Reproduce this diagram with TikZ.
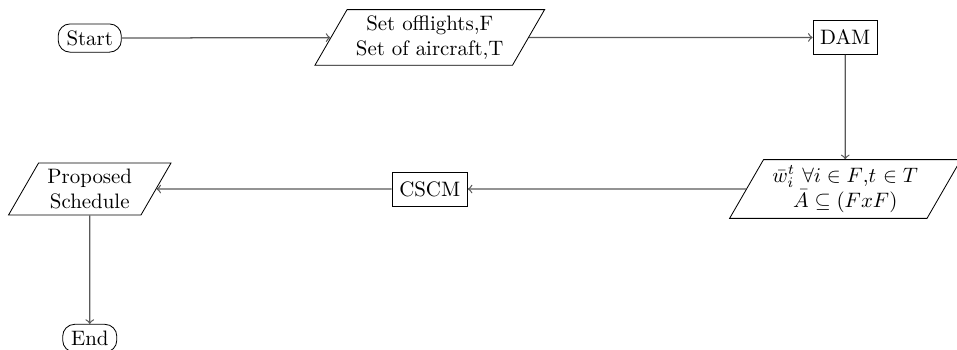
\documentclass[tikz,border=0pt]{standalone}
\usepackage{amsmath}
\usepackage{amssymb}
\usepackage{tikz}
\usetikzlibrary{shapes}
\usetikzlibrary{shapes.geometric}
\usetikzlibrary{arrows}
\tikzstyle{startstop}=[rectangle,rounded corners=2mm,draw=black,inner xsep=1.4mm,inner ysep=1.1mm,minimum height=0.46cm]
\tikzstyle{io}=[trapezium,trapezium left angle=60,trapezium right angle=120,draw=black,align=center,inner xsep=1.5mm,inner ysep=1mm]
\tikzstyle{process}=[rectangle,draw=black,minimum height=0.57cm,inner sep=1.2mm]
\tikzstyle{flow}=[->,draw=black!65,semithick]

\begin{document}
\begin{tikzpicture}
        \useasboundingbox (0,0) rectangle (16.10,-5.887);
        \node[startstop] at (1.51,-0.64) (start) {Start};
        \node[io] at (7.23,-0.63) (sets) {Set offlights,F\\Set of aircraft,T};
        \node[process] at (14.22,-0.63) (dam) {DAM};
        \node[io] at (14.22,-3.18) (wbar) {$\bar{w}_i^t$ $\forall i \in F$,$t$ $\in T$\\$\bar{A} \subseteq (FxF)$};
        \node[process] at (7.23,-3.18) (cscm) {CSCM};
        \node[io] at (1.51,-3.18) (sched) {Proposed\\Schedule};
        \node[startstop] at (1.51,-5.69) (end) {End};
        \draw[flow] (start) -- (sets);
        \draw[flow] (sets) -- (dam);
        \draw[flow] (dam) -- (wbar);
        \draw[flow] (wbar) -- (cscm);
        \draw[flow] (cscm) -- (sched);
        \draw[flow] (sched) -- (end);
      \end{tikzpicture}
\end{document}
